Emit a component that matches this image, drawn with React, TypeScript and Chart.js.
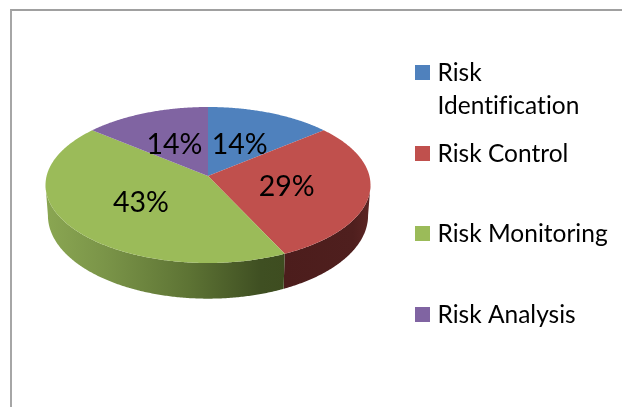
import React, { useEffect, useRef } from "react";
import { Chart, registerables } from "chart.js";

Chart.register(...registerables);

const categories = ["Risk Identification", "Risk Control", "Risk Monitoring", "Risk Analysis"];
const shares = [14, 29, 43, 14];
const sliceColors = ["#4f81bd", "#c0504d", "#9bbb59", "#8064a2"];
const legendLines = [["Risk", "Identification"], ["Risk Control"], ["Risk Monitoring"], ["Risk Analysis"]];

const FONT = "Lato, Carlito, Calibri, sans-serif";
const CX = 208;
const TILT = 0.1154;

// Perspective view of the pie's top and bottom discs. `r` is 0..1 from the hub,
// `theta` is measured clockwise from twelve o'clock.
const topDisc = (theta: number, r = 1) => {
  const u = r * Math.sin(theta);
  const v = r * Math.cos(theta);
  const w = 1 + TILT * v;
  return { x: CX + (161.4 * u) / w, y: (176 - 56.65 * v) / w };
};
const bottomDisc = (theta: number) => {
  const u = Math.sin(theta);
  const v = Math.cos(theta);
  const w = 1 + TILT * v;
  return { x: CX + (159 * u) / w, y: (206 - 58.2 * v) / w };
};

const STEP = Math.PI / 360;
const sweep = (from: number, to: number) => {
  const out: number[] = [];
  for (let t = from; t < to; t += STEP) out.push(t);
  out.push(to);
  return out;
};

const WALL_START = (96.6 * Math.PI) / 180;
const WALL_END = (263.4 * Math.PI) / 180;

const wallFill = (ctx: CanvasRenderingContext2D, index: number) => {
  if (index === 1) {
    const g = ctx.createLinearGradient(285, 0, 370, 0);
    g.addColorStop(0, "#4c1d1c");
    g.addColorStop(0.8, "#4f1f1e");
    g.addColorStop(1, "#5c2524");
    return g;
  }
  const g = ctx.createLinearGradient(46, 0, 285, 0);
  g.addColorStop(0, "#8aa652");
  g.addColorStop(0.25, "#7a9448");
  g.addColorStop(0.6, "#5d7334");
  g.addColorStop(0.9, "#3f4f22");
  g.addColorStop(1, "#3e4d20");
  return g;
};

const perspectivePie = {
  id: "perspectivePie",
  beforeDatasetDraw(chart: any) {
    const ctx: CanvasRenderingContext2D = chart.ctx;
    const arcs = chart.getDatasetMeta(0).data;
    const span = (a: any) => ({
      start: a.startAngle + Math.PI / 2,
      end: a.endAngle + Math.PI / 2,
    });

    // Side wall, only along the front of the disc
    arcs.forEach((arc: any, i: number) => {
      const { start, end } = span(arc);
      const from = Math.max(start, WALL_START);
      const to = Math.min(end, WALL_END);
      if (to <= from) return;
      ctx.beginPath();
      sweep(from, to).forEach((t, k) => {
        const p = topDisc(t);
        if (k === 0) ctx.moveTo(p.x, p.y);
        else ctx.lineTo(p.x, p.y);
      });
      sweep(from, to)
        .reverse()
        .forEach((t) => {
          const p = bottomDisc(t);
          ctx.lineTo(p.x, p.y);
        });
      ctx.closePath();
      ctx.fillStyle = wallFill(ctx, i);
      ctx.fill();
    });

    // Top face
    arcs.forEach((arc: any, i: number) => {
      const { start, end } = span(arc);
      const hub = topDisc(0, 0);
      ctx.beginPath();
      ctx.moveTo(hub.x, hub.y);
      sweep(start, end).forEach((t) => {
        const p = topDisc(t);
        ctx.lineTo(p.x, p.y);
      });
      ctx.closePath();
      ctx.fillStyle = sliceColors[i];
      ctx.fill();
    });

    // Percentage labels, halfway along each slice's middle radius
    ctx.fillStyle = "#000000";
    ctx.font = `28.5px ${FONT}`;
    ctx.textAlign = "center";
    ctx.textBaseline = "alphabetic";
    arcs.forEach((arc: any, i: number) => {
      const { start, end } = span(arc);
      const p = topDisc((start + end) / 2, 0.5);
      ctx.fillText(`${shares[i]}%`, p.x - 1, p.y + 11.5);
    });
    return false;
  },
  afterDraw(chart: any) {
    const ctx: CanvasRenderingContext2D = chart.ctx;
    const swatchTops = [65, 146, 226, 307];
    ctx.save();
    ctx.font = `24.5px ${FONT}`;
    // A tiny tracking value keeps "fi" as two separate letters
    (ctx as any).letterSpacing = "0.01px";
    ctx.textAlign = "left";
    ctx.textBaseline = "alphabetic";
    legendLines.forEach((lines, i) => {
      ctx.fillStyle = sliceColors[i];
      ctx.fillRect(415, swatchTops[i], 15, 15);
      ctx.fillStyle = "#000000";
      lines.forEach((line, k) => {
        ctx.fillText(line, 437.5, swatchTops[i] + 15.5 + k * 33);
      });
    });
    ctx.restore();
  },
};

export default function App() {
  const ref = useRef<HTMLCanvasElement | null>(null);

  useEffect(() => {
    if (!ref.current) return;
    const chart = new Chart(ref.current, {
      type: "pie",
      data: {
        labels: categories,
        datasets: [{ data: shares, backgroundColor: sliceColors, borderWidth: 0 }],
      },
      options: {
        animation: false,
        responsive: false,
        plugins: { legend: { display: false }, tooltip: { enabled: false } },
      },
      plugins: [perspectivePie],
    } as any);
    return () => chart.destroy();
  }, []);

  return (
    <div style={{ position: "fixed", left: 0, top: 0, width: 622, height: 407, background: "#ffffff", overflow: "hidden" }}>
      <canvas ref={ref} width={622} height={407} style={{ display: "block" }} />
      <div style={{ position: "absolute", left: 10, top: 9, right: -4, bottom: -4, borderLeft: "2px solid #a6a6a6", borderTop: "2px solid #a0a0a0" }} />
    </div>
  );
}
